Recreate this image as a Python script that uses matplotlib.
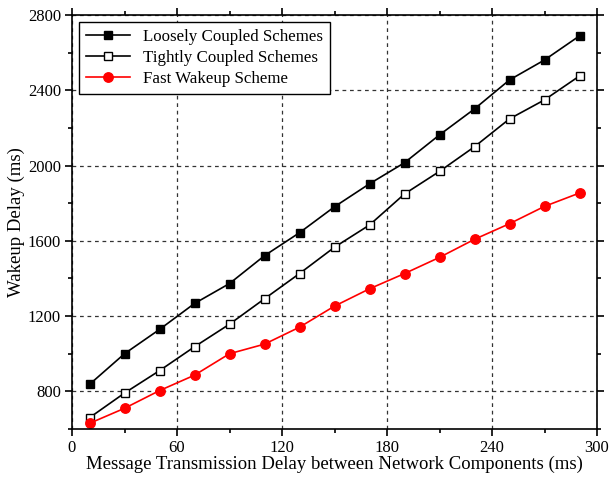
import numpy as np
import matplotlib
matplotlib.use('Agg')
import matplotlib.pyplot as plt
from matplotlib.ticker import MultipleLocator

plt.rcParams['font.family'] = ['Liberation Serif', 'DejaVu Serif']

# 数据
delay = [10, 30, 50, 70, 90, 110, 130, 150, 170, 190, 210, 230, 250, 270, 290]
loosely = [837, 1000, 1129, 1267, 1373, 1521, 1643, 1781, 1903, 2015, 2163, 2301, 2455, 2561, 2689]
tightly = [660, 791, 910, 1037, 1157, 1292, 1426, 1566, 1684, 1849, 1969, 2100, 2248, 2349, 2476]
fast = [630, 710, 804, 886, 1000, 1051, 1141, 1253, 1345, 1426, 1512, 1608, 1691, 1783, 1854]

fig = plt.figure(figsize=(6.1, 4.84), dpi=100)
ax = fig.add_axes([72/610, 1 - 429/484, 525/610, 414/484])

ax.plot(delay, loosely, '-s', color='black', markerfacecolor='black', markersize=6.3, lw=1.2,
        label='Loosely Coupled Schemes')
ax.plot(delay, tightly, '-s', color='black', markerfacecolor='white', markersize=6.3, lw=1.2,
        label='Tightly Coupled Schemes')
ax.plot(delay, fast, '-o', color='red', markerfacecolor='red', markersize=6.8, lw=1.2,
        label='Fast Wakeup Scheme')

ax.set_xlim(0, 300)
ax.set_ylim(600, 2800)
ax.xaxis.set_major_locator(MultipleLocator(60))
ax.xaxis.set_minor_locator(MultipleLocator(30))
ax.yaxis.set_major_locator(MultipleLocator(400))
ax.yaxis.set_minor_locator(MultipleLocator(200))
ax.tick_params(which='both', direction='out', top=True, right=True, labelsize=12, width=1.2)
ax.tick_params(which='major', length=5, pad=3)
ax.tick_params(which='minor', length=3)
ax.grid(True, which='major', linestyle=(0, (3, 3)), color='#333333', lw=0.9)
for s in ax.spines.values():
    s.set_linewidth(1.2)

ax.set_xlabel('Message Transmission Delay between Network Components (ms)', fontsize=13.5, labelpad=0)
ax.set_ylabel('Wakeup Delay (ms)', fontsize=13.5, labelpad=2)

leg = ax.legend(loc='upper left', fontsize=12.2, fancybox=False, edgecolor='black',
                framealpha=1, handlelength=2.6, borderaxespad=0.4, labelspacing=0.3)
leg.get_frame().set_linewidth(1.0)

fig.savefig('out.png', dpi=100)
